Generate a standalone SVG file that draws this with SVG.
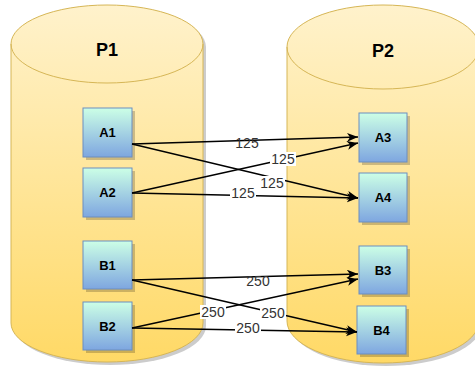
<svg xmlns="http://www.w3.org/2000/svg" width="475" height="370" viewBox="0 0 475 370">
<defs>
<linearGradient id="cyl" x1="0" y1="0" x2="0" y2="1"><stop offset="0" stop-color="#fff2cc"/><stop offset="1" stop-color="#ffd966"/></linearGradient>
<linearGradient id="box" x1="0" y1="0" x2="0" y2="1"><stop offset="0" stop-color="#ccffe6"/><stop offset="1" stop-color="#7ea6e0"/></linearGradient>
<marker id="arr" markerUnits="userSpaceOnUse" markerWidth="12" markerHeight="10" refX="11" refY="4.5" orient="auto"><path d="M0,0 L11,4.5 L0,9 L3,4.5 Z" fill="#000"/></marker>
</defs>
<style>
.cyl{fill:url(#cyl);stroke:#d6b656;stroke-width:1}
.sh{fill:#000;opacity:0.2}
.box{fill:url(#box);stroke:#6c8ebf;stroke-width:1}
.bl{font-family:"Liberation Sans",Arial,sans-serif;font-size:13px;font-weight:bold;fill:#000;text-anchor:middle}
.tl{font-family:"Liberation Sans",Arial,sans-serif;font-size:18px;font-weight:bold;fill:#000;text-anchor:middle}
.e{fill:none;stroke:#000;stroke-width:1.3;marker-end:url(#arr)}
.el{font-family:"Liberation Sans",Arial,sans-serif;font-size:14px;fill:#333;text-anchor:middle}
.lb{fill:#fff}
</style>
<g id="P1">
<path class="sh" transform="translate(3,3)" d="M11,44 A96,39 0 0 1 203,44 L203,323 A96,39 0 0 1 11,323 Z"/>
<path class="cyl" d="M11,44 A96,39 0 0 1 203,44 L203,323 A96,39 0 0 1 11,323 Z"/>
<path fill="none" stroke="#d6b656" d="M11,44 A96,39 0 0 0 203,44"/>
<text class="tl" x="107" y="56">P1</text>
</g>
<g id="P2">
<path class="sh" transform="translate(3,3)" d="M287,47 A96,42 0 0 1 479,47 L479,321 A96,42 0 0 1 287,321 Z"/>
<path class="cyl" d="M287,47 A96,42 0 0 1 479,47 L479,321 A96,42 0 0 1 287,321 Z"/>
<path fill="none" stroke="#d6b656" d="M287,47 A96,42 0 0 0 479,47"/>
<text class="tl" x="383" y="57">P2</text>
</g>
<g id="A1"><rect class="sh" x="86" y="111" width="49" height="49"/><rect class="box" x="83" y="108" width="49" height="49"/><text class="bl" x="107.5" y="137">A1</text></g>
<g id="A2"><rect class="sh" x="86" y="171" width="49" height="49"/><rect class="box" x="83" y="168" width="49" height="49"/><text class="bl" x="107.5" y="197">A2</text></g>
<g id="B1"><rect class="sh" x="86" y="244" width="49" height="48"/><rect class="box" x="83" y="241" width="49" height="48"/><text class="bl" x="107.5" y="270">B1</text></g>
<g id="B2"><rect class="sh" x="86" y="305" width="49" height="48"/><rect class="box" x="83" y="302" width="49" height="48"/><text class="bl" x="107.5" y="331">B2</text></g>
<g id="A3"><rect class="sh" x="362" y="116" width="48" height="49"/><rect class="box" x="359" y="113" width="48" height="49"/><text class="bl" x="383" y="142">A3</text></g>
<g id="A4"><rect class="sh" x="362" y="176" width="48" height="49"/><rect class="box" x="359" y="173" width="48" height="49"/><text class="bl" x="383" y="202">A4</text></g>
<g id="B3"><rect class="sh" x="362" y="249" width="48" height="48"/><rect class="box" x="359" y="246" width="48" height="48"/><text class="bl" x="383" y="275">B3</text></g>
<g id="B4"><rect class="sh" x="360" y="309" width="49" height="48"/><rect class="box" x="357" y="306" width="49" height="48"/><text class="bl" x="381.5" y="335">B4</text></g>
<g id="connectors">
<path class="e" d="M132,144 L358,137"/>
<path class="e" d="M132,144 L358,198"/>
<path class="e" d="M132,193 L358,143"/>
<path class="e" d="M132,193 L358,198"/>
<path class="e" d="M132,280 L358,274"/>
<path class="e" d="M132,280 L357,332"/>
<path class="e" d="M132,328 L358,279"/>
<path class="e" d="M132,328 L357,332"/>
<text class="el" x="247" y="148">125</text>
<rect class="lb" x="270" y="152" width="26" height="14"/><text class="el" x="283" y="164">125</text>
<rect class="lb" x="259" y="176" width="26" height="14"/><text class="el" x="272" y="188">125</text>
<rect class="lb" x="230" y="186" width="26" height="14"/><text class="el" x="243" y="198">125</text>
<text class="el" x="258" y="286">250</text>
<rect class="lb" x="200" y="305" width="26" height="14"/><text class="el" x="213" y="317">250</text>
<rect class="lb" x="260" y="306" width="26" height="14"/><text class="el" x="273" y="318">250</text>
<rect class="lb" x="235" y="321" width="26" height="14"/><text class="el" x="248" y="333">250</text>
</g>
</svg>
